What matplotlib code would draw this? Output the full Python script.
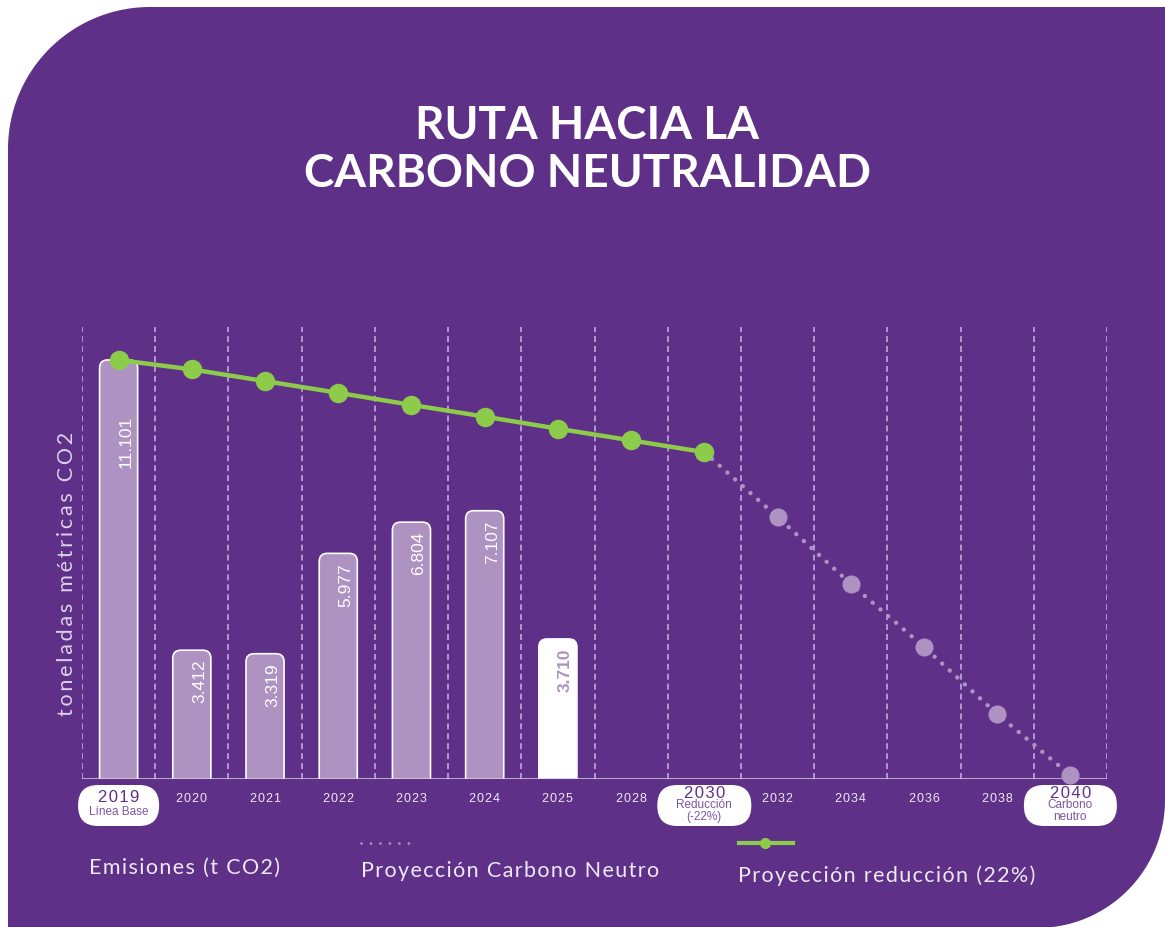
import matplotlib
matplotlib.use("Agg")
import numpy as np
import matplotlib.pyplot as plt
from matplotlib.patches import FancyBboxPatch, Polygon

# ------------------------------
# Data
# ------------------------------
years = ["2019", "2020", "2021", "2022", "2023", "2024", "2025",
         "2028", "2030", "2032", "2034", "2036", "2038", "2040"]
emission_years = years[:7]
emissions = [11101, 3412, 3319, 5977, 6804, 7107, 3710]
emission_labels = ["11.101", "3.412", "3.319", "5.977", "6.804", "7.107", "3.710"]
reduction_years = years[:9]
reduction_path = [11101, 10850, 10540, 10230, 9910, 9600, 9280, 8970, 8659]
neutral_years = years[8:]
neutral_path = [8659, 6940, 5170, 3500, 1720, 100]
milestone_years = ["2019", "2030", "2040"]
milestone_notes = ["Línea Base", "Reducción\n(-22%)", "Carbono\nneutro"]

# ------------------------------
# Colours
# ------------------------------
PURPLE = "#5E3087"
LAVENDER = "#AE92C2"
GRID = "#B7A2D4"
GREEN = "#8DCB4B"
BASE = "#D8D0E2"
TEXT = "#EEE9F4"
NOTE = "#7D55A3"


def track(s, n=1):
    # letter spacing with hair spaces
    return ("\u200a" * n).join(s)


W, H = 1165, 927
fig = plt.figure(figsize=(W / 100, H / 100), dpi=100)
fig.patch.set_facecolor("white")

# background card (pixel coordinates)
bg = fig.add_axes([0, 0, 1, 1], zorder=0)
bg.set_xlim(0, W)
bg.set_ylim(H, 0)
bg.axis("off")
r1, r2 = 142, 128
t1 = np.linspace(np.pi, 1.5 * np.pi, 60)
t2 = np.linspace(0, 0.5 * np.pi, 60)
pts = [(8, H + 2)]
pts += list(zip(8 + r1 + r1 * np.cos(t1), 7 + r1 + r1 * np.sin(t1)))
pts += [(W + 2, 7)]
pts += list(zip(1037 + r2 * np.cos(t2), 800 + r2 * np.sin(t2)))
pts += [(8, H + 2)]
bg.add_patch(Polygon(pts, closed=True, facecolor=PURPLE, edgecolor="none"))

# ------------------------------
# Main chart axes
# ------------------------------
ymax = 11974
ax = fig.add_axes([82 / W, 1 - 779 / H, (1107 - 82) / W, (779 - 327) / H], zorder=1)
ax.patch.set_alpha(0)
ax.set_xlim(-0.5, len(years) - 0.5)
ax.set_ylim(0, ymax)
for s in ax.spines.values():
    s.set_visible(False)
ax.set_yticks([])

x_idx = {y: i for i, y in enumerate(years)}

# dashed vertical separators
for i in range(len(years) + 1):
    ax.axvline(i - 0.5, color=GRID, lw=1.3, linestyle=(0, (3.3, 2.2)), zorder=0.5)

# bars with rounded tops
bar_w = 0.52
px_x = (1107 - 82) / len(years)
px_y = (779 - 327) / ymax
aspect = px_x / px_y
for yr, v, lab in zip(emission_years, emissions, emission_labels):
    i = x_idx[yr]
    last = yr == "2025"
    face = "white" if last else LAVENDER
    bar = FancyBboxPatch((i - bar_w / 2, -800), bar_w, v + 800,
                         boxstyle="round,pad=0,rounding_size=0.11",
                         mutation_aspect=aspect, facecolor=face,
                         edgecolor="white", lw=1.2, zorder=2)
    ax.add_patch(bar)
    off = -40 if i == 0 else -7
    ax.annotate(lab, xy=(i, v), xytext=(5.5, off), textcoords="offset points",
                rotation=90, ha="center", va="top", fontsize=12.5,
                family="Liberation Sans",
                color=LAVENDER if last else "white",
                fontweight="bold" if last else "normal", zorder=6)

# baseline
ax.axhline(0, color=BASE, lw=1.8, zorder=3)

# projections
nx = [x_idx[y] for y in neutral_years]
ax.plot(nx, neutral_path, color=LAVENDER, lw=3.2, linestyle=(0, (0.01, 2.3)),
        dash_capstyle="round", zorder=4, clip_on=False)
ax.plot(nx[1:], neutral_path[1:], "o", color=LAVENDER, ms=12, zorder=4, clip_on=False)
rx = [x_idx[y] for y in reduction_years]
ax.plot(rx, reduction_path, color=GREEN, lw=3.2, marker="o", ms=13,
        zorder=5, clip_on=False)

# x tick labels
ax.set_xticks(range(len(years)))
ax.set_xticklabels(["" if y in milestone_years else track(y) for y in years],
                   fontsize=9, color=TEXT, family=["Liberation Sans", "DejaVu Sans"])
ax.tick_params(axis="x", length=0, pad=10)

# ------------------------------
# Overlay: pills, title, labels, legend
# ------------------------------
ov = fig.add_axes([0, 0, 1, 1], zorder=3)
ov.set_xlim(0, W)
ov.set_ylim(H, 0)
ov.axis("off")

pill_w = {"2019": 81, "2030": 94, "2040": 93}
for yr, note in zip(milestone_years, milestone_notes):
    cx = ax.transData.transform((x_idx[yr], 0))[0]
    w = pill_w[yr]
    ov.add_patch(FancyBboxPatch((cx - w / 2 + 20, 785 + 20), w - 40, 1,
                                boxstyle="round,pad=20", facecolor="white",
                                edgecolor="none"))
    first = yr == "2019"
    ov.text(cx, 797 if first else 793, track(yr), ha="center", va="center",
            fontsize=12, color=PURPLE, family=["Liberation Sans", "DejaVu Sans"])
    ov.text(cx, 812 if first else 811, note, ha="center", va="center",
            fontsize=8.5, color=NOTE, family="Liberation Sans", linespacing=0.92)

# title
ov.text(587, 150, "RUTA HACIA LA\nCARBONO NEUTRALIDAD", ha="center", va="center",
        fontsize=33, fontweight="bold", color="white", family="Lato",
        linespacing=1.18)

# y label
ov.text(67, 574, track("toneladas métricas CO2", 2), rotation=90, ha="center",
        va="center", fontsize=15.5, color="#DCD0EA", family=["Lato", "DejaVu Sans"])

# legend
leg_font = dict(fontsize=15.5, color=TEXT, family=["Lato", "DejaVu Sans"],
                ha="left", va="center")
ov.text(89, 868, track("Emisiones (t CO2)"), **leg_font)
ov.plot([361, 409], [843, 843], color=LAVENDER, lw=2.0,
        linestyle=(0, (0.01, 3.4)), dash_capstyle="round")
ov.text(361, 871, track("Proyección Carbono Neutro"), **leg_font)
ov.plot([739, 793], [843, 843], color=GREEN, lw=3)
ov.plot([765], [843], "o", color=GREEN, ms=7)
ov.text(738, 876, track("Proyección reducción (22%)"), **leg_font)

fig.savefig("out.png", dpi=100, facecolor="white")
